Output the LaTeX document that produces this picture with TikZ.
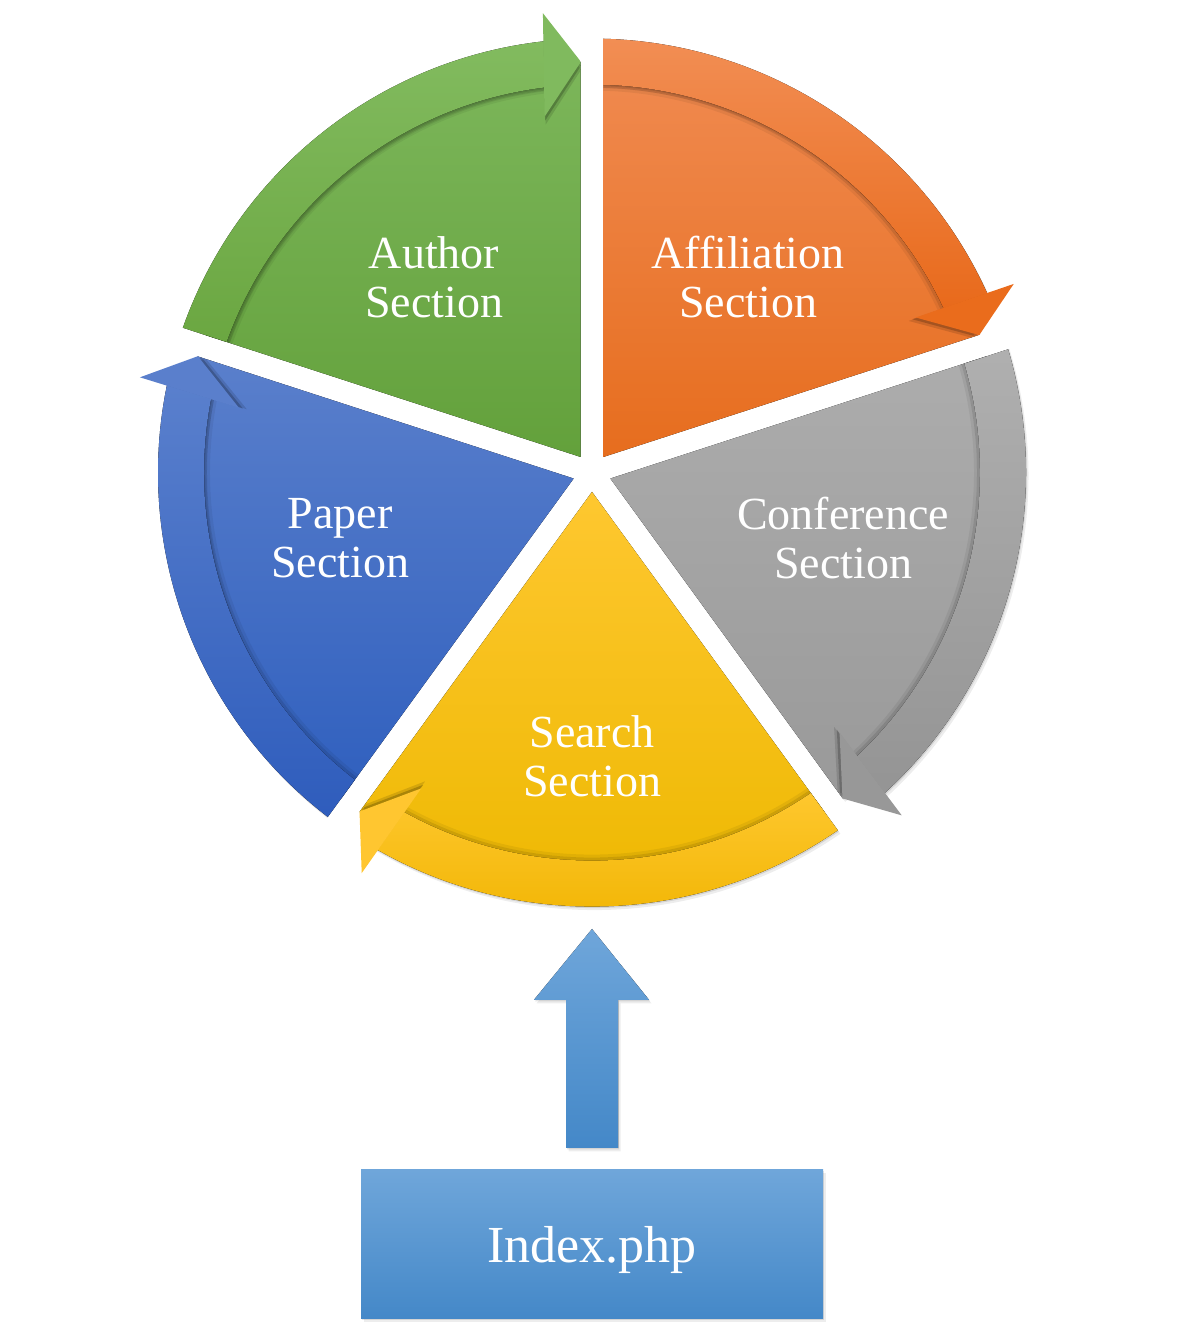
\documentclass[tikz,border=0pt]{standalone}
\usepackage{fontspec}
\setmainfont{Liberation Serif}
\usetikzlibrary{calc,shadows}
\definecolor{gBodyT}{HTML}{7CB65A}\definecolor{gBodyB}{HTML}{62A03A}
\definecolor{gBandT}{HTML}{82BB5F}\definecolor{gBandB}{HTML}{6AA640}\definecolor{gHead}{HTML}{80BA5E}
\definecolor{oBodyT}{HTML}{F08A50}\definecolor{oBodyB}{HTML}{E66C1C}
\definecolor{oBandT}{HTML}{F28E54}\definecolor{oBandB}{HTML}{E8691A}\definecolor{oHead}{HTML}{EA6C1C}
\definecolor{kBodyT}{HTML}{ADADAD}\definecolor{kBodyB}{HTML}{999999}
\definecolor{kBandT}{HTML}{B0B0B0}\definecolor{kBandB}{HTML}{949494}\definecolor{kHead}{HTML}{989898}
\definecolor{yBodyT}{HTML}{FFC832}\definecolor{yBodyB}{HTML}{EDB800}
\definecolor{yBandT}{HTML}{FFC830}\definecolor{yBandB}{HTML}{F0B400}\definecolor{yHead}{HTML}{FFC630}
\definecolor{bBodyT}{HTML}{5B80CC}\definecolor{bBodyB}{HTML}{2F5FBE}
\definecolor{bBandT}{HTML}{5A80CD}\definecolor{bBandB}{HTML}{2E5CBC}\definecolor{bHead}{HTML}{5A7FCC}
\definecolor{idxT}{HTML}{6FA6DA}\definecolor{idxB}{HTML}{4488C8}
\newcommand{\cycseg}[6]{%
 \pgfmathsetmacro\sgH{#1}%
 \pgfmathsetmacro\sgT{#1+72}%
 \pgfmathsetmacro\sgB{#1+36}%
 \pgfmathsetmacro\sgHa{#1+1.55}%
 \pgfmathsetmacro\sgHo{#1+6.1}%
 \pgfmathsetmacro\sgHi{#1+7.6}%
 \pgfmathsetmacro\sgBo{#1+5.5}%
 \pgfmathsetmacro\sgBi{#1+6.0}%
 \begin{scope}
  \clip ($(C)+(\sgB:19.3)$) -- ++(\sgT:700) -- ($(C)+(\sgB:19.3)+(\sgH:700)$) -- cycle;
  \fill[softshd, top color=#2, bottom color=#3] (C) -- ($(C)+(\sgH:411)$) arc[start angle=\sgH, end angle=\sgT, radius=411] -- cycle;
  \draw[black, opacity=.15, line width=3pt] ($(C)+(\sgBi:386.5)$) arc[start angle=\sgBi, end angle=\sgT, radius=386.5];
  \draw[black, opacity=.06, line width=3pt] ($(C)+(\sgBi:383.5)$) arc[start angle=\sgBi, end angle=\sgT, radius=383.5];
  \fill[softshd, top color=#4, bottom color=#5] ($(C)+(\sgBi:388)$) arc[start angle=\sgBi, end angle=\sgT, radius=388] -- ($(C)+(\sgT:434)$) arc[start angle=\sgT, end angle=\sgBo, radius=434] -- cycle;
  \fill[black, opacity=.12] ($(C)+(\sgHo:454)$) -- ($(C)+(\sgHa:403)$) -- ($(C)+(\sgHi:351)$) -- cycle;
  \fill[black, opacity=.20] ($(C)+(\sgHo:458)$) -- ($(C)+(\sgHa:407)$) -- ($(C)+(\sgHi:355)$) -- cycle;
  \fill[fill=#6] ($(C)+(\sgHo:462)$) -- ($(C)+(\sgHa:411)$) -- ($(C)+(\sgHi:359)$) -- cycle;
 \end{scope}}
\begin{document}
\begin{tikzpicture}[x=1pt,y=1pt,
  softshd/.style={preaction={fill=black, opacity=.10, transform canvas={shift={(1pt,-1.5pt)}}},
                  preaction={fill=black, opacity=.07, transform canvas={shift={(2.5pt,-3.5pt)}}}},
  segtext/.style={text=white, align=center, font=\fontsize{46}{49}\selectfont, inner sep=0pt},
  idxbox/.style={softshd, top color=idxT, bottom color=idxB, minimum width=462pt, minimum height=149pt,
    inner sep=0pt, text=white, text depth=0pt, font=\fontsize{52}{60}\selectfont},
  uparrow/.style={softshd, top color=idxT, bottom color=idxB}
]
\useasboundingbox (0,0) rectangle (1184,1333);
\fill[white] (0,0) rectangle (1184,1333);
\coordinate (C) at (592,860.4);
% segments: head boundary angle, colours
\cycseg{90}{gBodyT}{gBodyB}{gBandT}{gBandB}{gHead}
\cycseg{18}{oBodyT}{oBodyB}{oBandT}{oBandB}{oHead}
\cycseg{-54}{kBodyT}{kBodyB}{kBandT}{kBandB}{kHead}
\cycseg{-126}{yBodyT}{yBodyB}{yBandT}{yBandB}{yHead}
\cycseg{162}{bBodyT}{bBodyB}{bBandT}{bBandB}{bHead}
% labels
\node[segtext] (author) at (434,1056.2) {Author\\Section};
\node[segtext] (affil) at (748,1056.2) {Affiliation\\Section};
\node[segtext] (paper) at (340,794.5) {Paper\\Section};
\node[segtext] (conf) at (843,795.2) {Conference\\Section};
\node[segtext] (search) at (592,577.2) {Search\\Section};
% index box and up arrow
\node[idxbox] (idx) at (592,88.5) {Index.php};
\coordinate (searchtip) at (592,404);
\path (idx.north) ++(0,22) coordinate (ab);
\fill[uparrow] ($(ab)+(-26,0)$) -- ($(ab)+(26,0)$) -- ($(ab)+(26,148)$) -- ($(ab)+(57,148)$)
  -- (searchtip) -- ($(ab)+(-58,148)$) -- ($(ab)+(-26,148)$) -- cycle;
\end{tikzpicture}
\end{document}
